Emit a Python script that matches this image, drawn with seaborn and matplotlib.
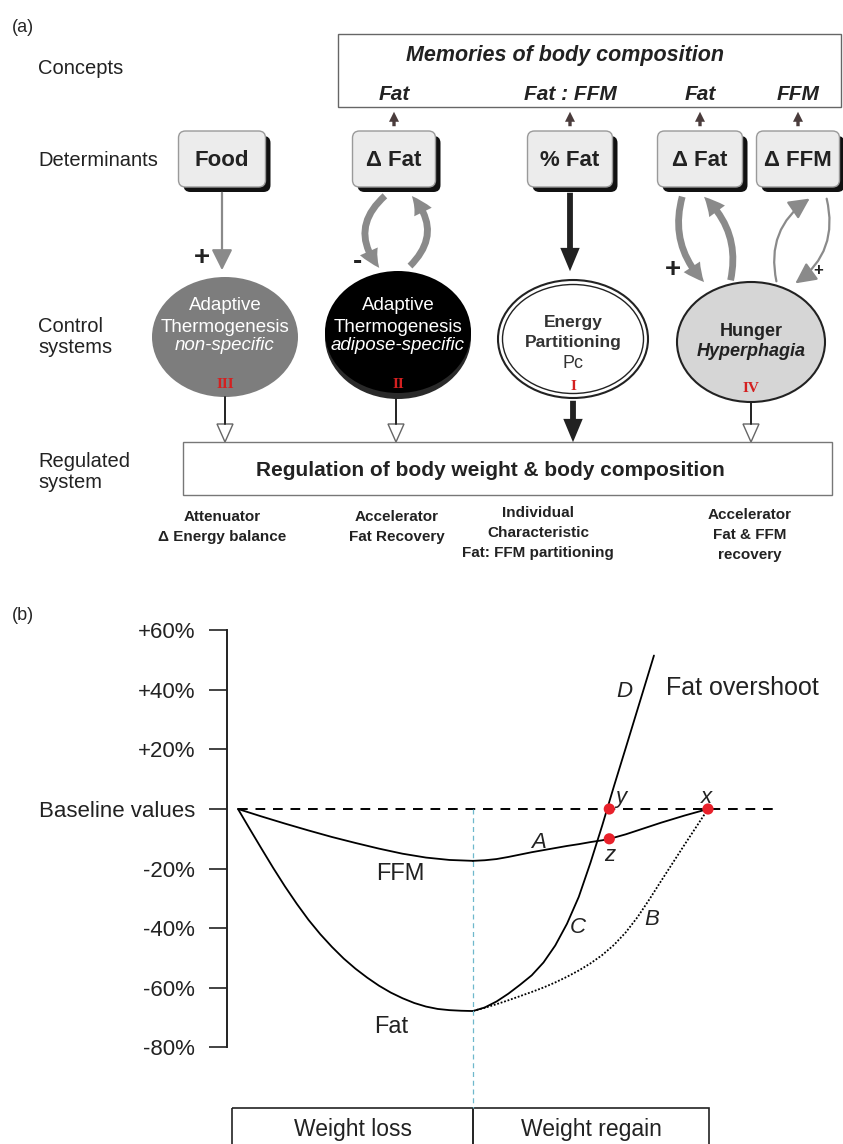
import numpy as np
import pandas as pd
import seaborn as sns
import matplotlib.pyplot as plt
from matplotlib.patches import FancyBboxPatch, Ellipse, FancyArrowPatch, Rectangle, Polygon

# ---------------- panel (b) data : time in arbitrary units, values in % of baseline
loss_t = [0, 1, 2, 3, 4, 5, 6, 7, 8, 9, 10]
ffm_loss = [0, -2.5, -4.9, -7.2, -9.4, -11.4, -13.3, -15.0, -16.3, -17.1, -17.4]
fat_loss_t = [0, 0.5, 1, 1.5, 2, 2.5, 3, 3.5, 4, 4.5, 5, 5.5, 6, 6.5, 7, 7.5, 8, 8.5, 9, 9.5, 10]
fat_loss = [0, -6.7, -13.3, -19.8, -26, -31.8, -37.2, -42, -46.3, -50.2, -53.6, -56.6,
            -59.3, -61.6, -63.5, -65.1, -66.3, -67.1, -67.5, -67.7, -67.8]
regain_t = [10, 10.5, 11, 11.5, 12, 12.5, 13, 13.5, 14, 14.5, 15, 15.5, 16, 16.5, 17, 17.5,
            18, 18.5, 19, 19.5, 20]
ffm_regain = [-17.4, -17.2, -16.8, -16.1, -15.3, -14.5, -13.8, -13.1, -12.4, -11.8, -11.1,
              -10.5, -9.6, -8.5, -7.2, -5.9, -4.6, -3.4, -2.2, -1.1, 0]
fat_regain_B = [-67.8, -66.7, -65.5, -64.2, -62.8, -61.4, -59.9, -58.2, -56.3, -54.2, -51.8,
                -49.0, -45.6, -41.4, -36.3, -30.4, -24.2, -18.1, -12.0, -6.0, 0]
fat_cd_t = [10, 10.5, 11, 11.5, 12, 12.5, 13, 13.5, 14, 14.5, 15, 15.5, 16, 16.5, 17, 17.7]
fat_regain_CD = [-67.8, -66.6, -64.6, -62, -59, -55.8, -51.5, -45.8, -38.5, -29.5, -18,
                 -5.5, 7.7, 20.5, 33.4, 51.5]
point_names = ['y', 'z', 'x']
point_t = [15.8, 15.8, 20]
point_v = [0, -10, 0]
y_ticks = [60, 40, 20, 0, -20, -40, -60, -80]
y_ticklabels = ['+60%', '+40%', '+20%', 'Baseline values', '-20%', '-40%', '-60%', '-80%']
phase_names = ['Weight loss', 'Weight regain']
phase_edges = [-0.25, 10, 20.05]
baseline_end = 22.9

# ---------------- panel (a) content
row_labels = ['Concepts', 'Determinants', 'Control\nsystems', 'Regulated\nsystem']
memory_labels = ['Fat', 'Fat : FFM', 'Fat', 'FFM']
determinants = ['Food', '\u0394 Fat', '% Fat', '\u0394 Fat', '\u0394 FFM']
captions = [['Attenuator', '\u0394 Energy balance'],
            ['Accelerator', 'Fat Recovery'],
            ['Individual', 'Characteristic', 'Fat: FFM partitioning'],
            ['Accelerator', 'Fat & FFM', 'recovery']]

sns.set_style('white')
plt.rcParams['font.family'] = ['Liberation Sans', 'DejaVu Sans']

W, H = 843, 1144
fig = plt.figure(figsize=(W / 100, H / 100), dpi=100)

# ================= panel (a): pixel-like coordinates
ax = fig.add_axes([0, 1 - 600 / H, 1, 600 / H])
ax.set_xlim(0, W)
ax.set_ylim(600, 0)
ax.axis('off')

ax.text(12, 27, '(a)', fontsize=13, va='center')
for lab, yy in zip(row_labels, [68, 161, 337, 472]):
    ax.text(38, yy, lab, fontsize=14.5, va='center', ha='left', linespacing=1.15, color='#222')

# memories box
ax.add_patch(Rectangle((338, 34), 503, 73, fill=False, ec='#666', lw=1))
ax.text(565, 55, 'Memories of body composition', fontsize=15.5, weight='bold', style='italic',
        ha='center', va='center', color='#222')
box_cx = [222, 394, 570, 700, 798]
box_w = [87, 83, 85, 85, 83]
for lab, cx in zip(memory_labels, box_cx[1:]):
    ax.text(cx, 95, lab, fontsize=15, weight='bold', style='italic', ha='center', va='center', color='#222')
    ax.add_artist(FancyArrowPatch((cx, 129), (cx, 109),
                                  arrowstyle='simple,head_length=0.6,head_width=0.6,tail_width=0.2',
                                  mutation_scale=12, color='#4a3c3c', lw=0))

# determinant boxes with drop shadow
for lab, cx, w in zip(determinants, box_cx, box_w):
    x0 = cx - w / 2
    ax.add_patch(FancyBboxPatch((x0 + 5, 136), w, 56, boxstyle='round,pad=0,rounding_size=7',
                                fc='#111', ec='none'))
    ax.add_patch(FancyBboxPatch((x0, 131), w, 56, boxstyle='round,pad=0,rounding_size=7',
                                fc='#ececec', ec='#9a9a9a', lw=1))
    ax.text(cx, 160, lab, fontsize=16, weight='bold', ha='center', va='center', color='#222')

# control system ellipses
ax.add_patch(Ellipse((225, 337), 146, 120, fc='#7d7d7d', ec='none'))
ax.add_patch(Ellipse((398, 337), 146, 124, fc='#2a2a2a', ec='none'))
ax.add_patch(Ellipse((398, 332), 146, 122, fc='black', ec='none'))
ax.add_patch(Ellipse((573, 339), 150, 118, fc='white', ec='#222', lw=1.5))
ax.add_patch(Ellipse((573, 339), 141, 109, fc='none', ec='#222', lw=1))
ax.add_patch(Ellipse((751, 342), 148, 120, fc='#d6d6d6', ec='#222', lw=1.5))

for cx, lines in [(225, [('Adaptive', 'normal'), ('Thermogenesis', 'normal'), ('non-specific', 'italic')]),
                  (398, [('Adaptive', 'normal'), ('Thermogenesis', 'normal'), ('adipose-specific', 'italic')])]:
    for (t, st), yy in zip(lines, [306, 327, 346]):
        ax.text(cx, yy, t, fontsize=13.5, style=st, ha='center', va='center', color='white')
ax.text(573, 322, 'Energy', fontsize=12.5, weight='bold', ha='center', va='center', color='#333')
ax.text(573, 342, 'Partitioning', fontsize=12.5, weight='bold', ha='center', va='center', color='#333')
ax.text(573, 364, 'Pc', fontsize=13, ha='center', va='center', color='#333')
ax.text(751, 332, 'Hunger', fontsize=13, weight='bold', ha='center', va='center', color='#222')
ax.text(751, 352, 'Hyperphagia', fontsize=13, weight='bold', style='italic', ha='center', va='center', color='#222')
for cx, yy, num in [(225, 385, 'III'), (398, 385, 'II'), (573, 387, 'I'), (751, 389, 'IV')]:
    ax.text(cx, yy, num, fontsize=11, weight='bold', family='Liberation Serif', ha='center',
            va='center', color='#d42020')

# determinant -> control arrows
ax.add_artist(FancyArrowPatch((222, 190), (222, 273), arrowstyle='-|>,head_length=0.9,head_width=0.45',
                              mutation_scale=14, color='#8a8a8a', lw=1.6))
ax.add_artist(FancyArrowPatch((570, 190), (570, 274), arrowstyle='simple,head_length=1.2,head_width=1.0,tail_width=0.3',
                              mutation_scale=14, color='#222', lw=0))
thick = 'simple,head_length=1.0,head_width=1.0,tail_width=0.35'
for p0, p1, rad in [((387, 194), (381, 270), 0.5), ((408, 268), (410, 194), 0.5),
                    ((683, 194), (706, 284), 0.3), ((730, 283), (702, 195), 0.3)]:
    ax.add_artist(FancyArrowPatch(p0, p1, arrowstyle=thick, mutation_scale=14,
                                  connectionstyle=f'arc3,rad={rad}', color='#8a8a8a', lw=0))
for p0, p1, rad in [((777, 284), (812, 197), -0.35), ((826, 196), (793, 285), -0.35)]:
    ax.add_artist(FancyArrowPatch(p0, p1, arrowstyle='-|>,head_length=0.9,head_width=0.45', mutation_scale=14,
                                  connectionstyle=f'arc3,rad={rad}', color='#8a8a8a', lw=1.6))
for sx, sy, s, fs in [(202, 258, '+', 20), (358, 262, '-', 20), (673, 270, '+', 20), (818, 271, '+', 12)]:
    ax.text(sx, sy, s, fontsize=fs, weight='bold', ha='center', va='center', color='#222')

# control -> regulated arrows
for cx, y0 in [(225, 397), (396, 399), (751, 402)]:
    ax.plot([cx, cx], [y0, 424], color='#222', lw=1.4)
    ax.add_patch(Polygon([(cx - 8, 424), (cx + 8, 424), (cx, 442)], closed=True, fc='white', ec='#666', lw=1))
ax.add_artist(FancyArrowPatch((573, 398), (573, 445), arrowstyle='simple,head_length=1.2,head_width=1.0,tail_width=0.3',
                              mutation_scale=14, color='#222', lw=0))

ax.add_patch(Rectangle((183, 442), 649, 53, fill=False, ec='#777', lw=1))
ax.text(490, 470, 'Regulation of body weight & body composition', fontsize=15, weight='bold',
        ha='center', va='center', color='#222')
for cx, y0, lines in zip([222, 397, 538, 750], [517, 517, 513, 515], captions):
    for k, t in enumerate(lines):
        ax.text(cx, y0 + 20 * k, t, fontsize=11, weight='bold', ha='center', va='center', color='#222')

# ================= panel (b)
PX_T = 23.5          # pixels per time unit
PX_P = 59.6 / 20     # pixels per percent
axb = fig.add_axes([0, 0, 1, 544 / H])
axb.set_xlim(-238 / PX_T, (W - 238) / PX_T)
axb.set_ylim(-(H - 809) / PX_P, (809 - 600) / PX_P)

lw = 1.3
sns.lineplot(x=loss_t, y=ffm_loss, ax=axb, color='black', lw=lw, estimator=None, sort=False)
sns.lineplot(x=regain_t, y=ffm_regain, ax=axb, color='black', lw=lw, estimator=None, sort=False)
sns.lineplot(x=fat_loss_t, y=fat_loss, ax=axb, color='black', lw=lw, estimator=None, sort=False)
sns.lineplot(x=fat_cd_t, y=fat_regain_CD, ax=axb, color='black', lw=lw, estimator=None, sort=False)
sns.lineplot(x=regain_t, y=fat_regain_B, ax=axb, color='black', lw=1.3, linestyle=(0, (1, 1)),
             estimator=None, sort=False)
axb.plot([loss_t[0], baseline_end], [0, 0], color='black', lw=1.4, ls=(0, (5, 4)))
axb.plot([phase_edges[1], phase_edges[1]], [0, -100.3], color='#6fb8cc', lw=0.9, ls=(0, (4, 3)))
sns.scatterplot(x=point_t, y=point_v, ax=axb, color='#e8202a', s=65, edgecolor='none', zorder=5)

# phase boxes
for k, name in enumerate(phase_names):
    axb.add_patch(Rectangle((phase_edges[k], -100.3), phase_edges[k + 1] - phase_edges[k], -30,
                            fill=False, ec='#222', lw=1.2))
    axb.text((phase_edges[k] + phase_edges[k + 1]) / 2, -107.5, name, fontsize=16.5,
             ha='center', va='center', color='#222')

# annotations
for name, tx, vy in zip(point_names, [16.3, 15.8, 19.95], [4.0, -15.5, 3.8]):
    axb.text(tx, vy, name, fontsize=16, style='italic', ha='center', va='center', color='#222')
for name, tx, vy in [('A', 12.77, -11.1), ('D', 16.43, 39.3), ('C', 14.45, -39.6), ('B', 17.62, -37.2)]:
    axb.text(tx, vy, name, fontsize=16, style='italic', ha='center', va='center', color='#222')
axb.text(18.2, 40.6, 'Fat overshoot', fontsize=18, ha='left', va='center', color='#222')
axb.text(6.9, -21.8, 'FFM', fontsize=17, ha='center', va='center', color='#222')
axb.text(6.5, -73.2, 'Fat', fontsize=17, ha='center', va='center', color='#222')
fig.text(12 / W, 1 - 615 / H, '(b)', fontsize=13, va='center')

axb.set_xticks([])
axb.set_yticks(y_ticks)
axb.set_yticklabels(y_ticklabels)
axb.tick_params(axis='y', direction='out', length=13, width=1.2, pad=10, left=True, color='#222',
                labelsize=16, labelcolor='#222')
for s in ['top', 'right', 'bottom']:
    axb.spines[s].set_visible(False)
axb.spines['left'].set_position(('data', -0.47))
axb.spines['left'].set_bounds(-80, 60)
axb.spines['left'].set_linewidth(1.4)
axb.spines['left'].set_color('#222')
axb.set_xlabel('')
axb.set_ylabel('')
axb.patch.set_alpha(0)
axb.set_zorder(-1)

fig.savefig('out.png', dpi=100)
